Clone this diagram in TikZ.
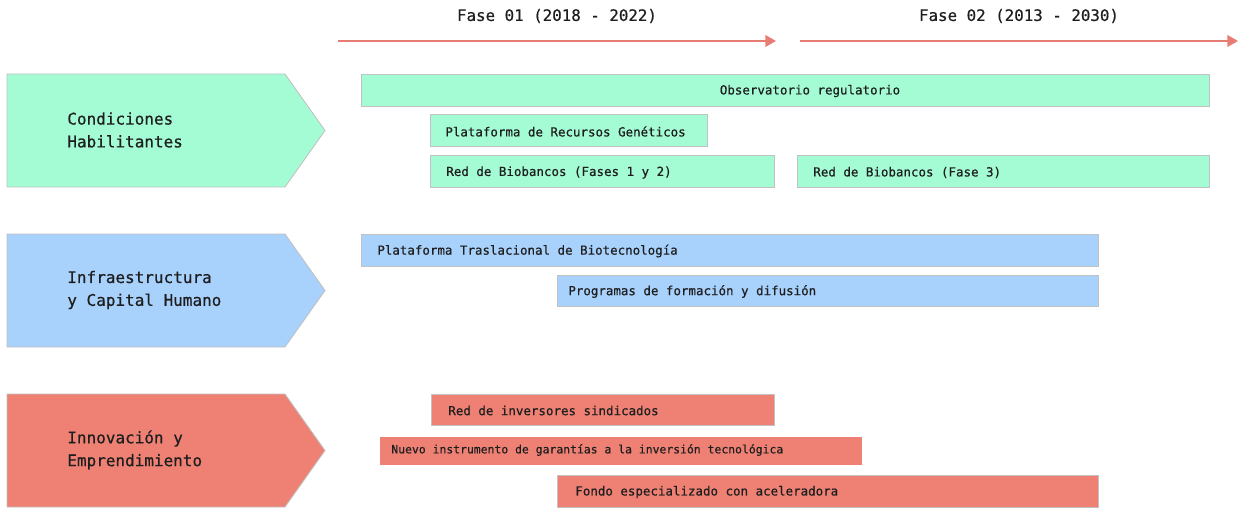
\documentclass[tikz,border=0pt]{standalone}
\usepackage{fontspec}
\setmonofont{DejaVu Sans Mono}[FakeBold=0.5]
\usetikzlibrary{arrows.meta}
\definecolor{mint}{HTML}{A4FCD4}
\definecolor{sky}{HTML}{A8D1FC}
\definecolor{coral}{HTML}{EE8174}
\definecolor{phasered}{HTML}{E67C73}
\definecolor{edgegray}{HTML}{C2C2C2}
\definecolor{inkgray}{HTML}{1E1E1E}
\tikzset{
  bar/.style={draw=edgegray,line width=0.5pt},
  bartext/.style={font=\ttfamily\fontsize{7.1}{9}\selectfont,text=inkgray,inner sep=0pt},
  areatext/.style={font=\ttfamily\fontsize{9.1}{13}\selectfont,text=inkgray,align=left,anchor=west,inner sep=0pt},
  phasetext/.style={font=\ttfamily\fontsize{9}{11}\selectfont,text=inkgray,inner sep=0pt},
  phasearrow/.style={draw=phasered,line width=1.2pt,-{Triangle[length=6pt,width=6.5pt]}}
}
\begin{document}
\begin{tikzpicture}[x=0.02cm,y=-0.02cm]
\useasboundingbox (0,0) rectangle (1239,510);
% phases
\node[phasetext] (fase1) at (557,16) {Fase 01 (2018 - 2022)};
\node[phasetext] (fase2) at (1019,16) {Fase 02 (2013 - 2030)};
\coordinate (f1a) at (338,41);
\coordinate (f1b) at (776,41);
\coordinate (f2a) at (800,41);
\coordinate (f2b) at (1238,41);
\draw[phasearrow] (f1a) -- (f1b);
\draw[phasearrow] (f2a) -- (f2b);
% areas
\draw[bar,fill=mint] (7,74) -- (285,74) -- (325,130.5) -- (285,187) -- (7,187) -- cycle;
\node[areatext] (cond) at (67,130) {Condiciones\\Habilitantes};
\draw[bar,fill=sky] (7,234) -- (285,234) -- (325,290.5) -- (285,347) -- (7,347) -- cycle;
\node[areatext] (infra) at (67,290) {Infraestructura\\y Capital Humano};
\draw[bar,fill=coral] (7,394) -- (285,394) -- (325,450.5) -- (285,507) -- (7,507) -- cycle;
\node[areatext] (innov) at (67,450) {Innovación y\\Emprendimiento};
% Condiciones Habilitantes
\draw[bar,fill=mint] (361,74) rectangle (1209,106);
\node[bartext] (obs) at (810,91) {Observatorio regulatorio};
\draw[bar,fill=mint] (430,114) rectangle (707,146);
\node[bartext,anchor=west] (prg) at (445,131.5) {Plataforma de Recursos Genéticos};
\draw[bar,fill=mint] (430,155) rectangle (774,187);
\node[bartext,anchor=west] (rb12) at (446,172.5) {Red de Biobancos (Fases 1 y 2)};
\draw[bar,fill=mint] (797,155) rectangle (1209,187);
\node[bartext,anchor=west] (rb3) at (813,172.5) {Red de Biobancos (Fase 3)};
% Infraestructura y Capital Humano
\draw[bar,fill=sky] (361,234) rectangle (1098,266);
\node[bartext,anchor=west] (ptb) at (377,251) {Plataforma Traslacional de Biotecnología};
\draw[bar,fill=sky] (557,275) rectangle (1098,306);
\node[bartext,anchor=west] (pfd) at (568,291.5) {Programas de formación y difusión};
% Innovacion y Emprendimiento
\draw[bar,fill=coral] (431,394) rectangle (774,425);
\node[bartext,anchor=west] (ris) at (448,410.5) {Red de inversores sindicados};
\draw[bar,fill=coral,draw=none] (380,437) rectangle (862,465);
\node[bartext,anchor=west,font=\ttfamily\fontsize{6.5}{8}\selectfont] (nig) at (391,450) {Nuevo instrumento de garantías a la inversión tecnológica};
\draw[bar,fill=coral] (557,475) rectangle (1098,507);
\node[bartext,anchor=west] (fea) at (575,492) {Fondo especializado con aceleradora};
\end{tikzpicture}
\end{document}
